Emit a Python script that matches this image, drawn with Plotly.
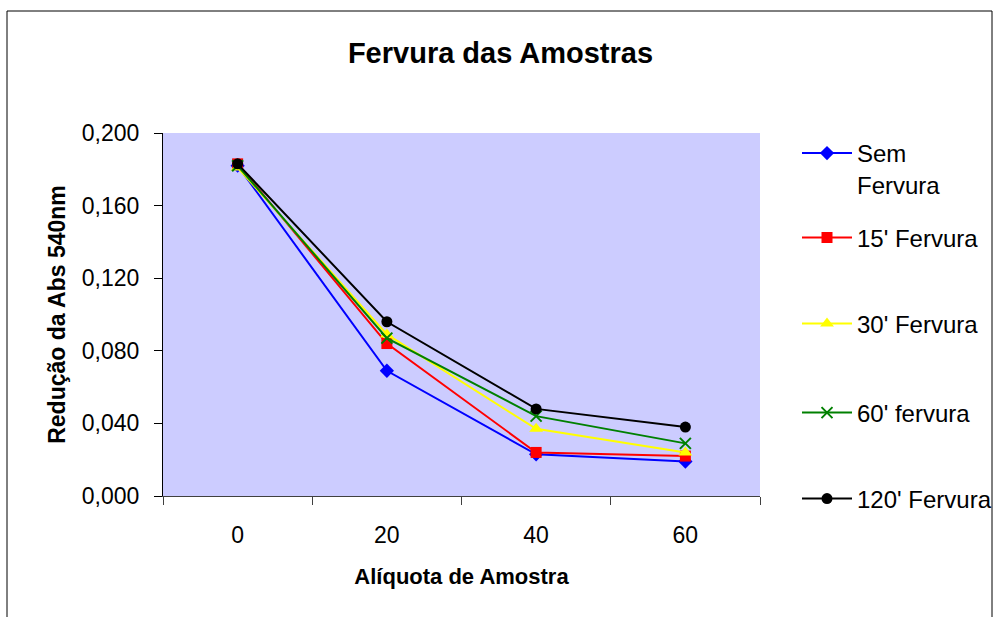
import plotly.graph_objects as go

categories = ["0", "20", "40", "60"]
series_names = ["Sem<br>Fervura", "15' Fervura", "30' Fervura", "60' fervura", "120' Fervura"]
sem_fervura = [0.182, 0.069, 0.023, 0.019]
fervura_15 = [0.183, 0.084, 0.024, 0.022]
fervura_30 = [0.181, 0.089, 0.037, 0.024]
fervura_60 = [0.182, 0.087, 0.044, 0.029]
fervura_120 = [0.183, 0.096, 0.048, 0.038]
y_ticks = [0.0, 0.04, 0.08, 0.12, 0.16, 0.2]

series_values = [sem_fervura, fervura_15, fervura_30, fervura_60, fervura_120]
colors = ["#0000FF", "#FF0000", "#FFFF00", "#008000", "#000000"]
symbols = ["diamond", "square", "triangle-up", "x-thin-open", "circle"]
sizes = [11, 11, 12, 11, 11]

FONT = "Arial, Liberation Sans, sans-serif"

# plot area geometry in pixels
L, R, T, B = 163, 237, 133, 121
W, H = 997, 617
pw, ph = W - L - R, H - T - B

def py(ypix):
    return (H - B - ypix) / ph

def px(xpix):
    return (xpix - L) / pw

fig = go.Figure()
legend_ids = ["legend", "legend2", "legend3", "legend4", "legend5"]
for i, (name, vals) in enumerate(zip(series_names, series_values)):
    fig.add_trace(go.Scatter(
        x=categories, y=vals, name=name, mode="lines+markers",
        line=dict(color=colors[i], width=2),
        marker=dict(symbol=symbols[i], size=sizes[i], color=colors[i],
                    line=dict(color=colors[i], width=2 if symbols[i] == "x-thin-open" else 0)),
        legend=legend_ids[i],
    ))

leg_centers = [None, 238, 324, 413, 499]
legend_common = dict(font=dict(family=FONT, size=24, color="black"),
                     bgcolor="rgba(0,0,0,0)", x=px(797), xanchor="left",
                     itemwidth=50)
layout_legends = {}
layout_legends["legend"] = dict(legend_common, y=py(131), yanchor="top", valign="top")
for i in range(1, 5):
    layout_legends[legend_ids[i]] = dict(legend_common, y=py(leg_centers[i]), yanchor="middle")

fig.update_layout(
    width=W, height=H,
    margin=dict(l=L, r=R, t=T, b=B, autoexpand=False),
    paper_bgcolor="white",
    plot_bgcolor="#CCCCFF",
    separators=",.",
    font=dict(family=FONT, size=22, color="black"),
    title=dict(text="<b>Fervura das Amostras</b>", x=0.502, xanchor="center",
               y=1 - 53 / H, yanchor="middle",
               font=dict(family=FONT, size=29, color="black")),
    xaxis=dict(type="category", range=[-0.5, 3.5], tickson="boundaries",
               ticks="outside", ticklen=8, tickcolor="#404040",
               showline=True, linecolor="#404040", linewidth=1,
               showgrid=False, zeroline=False, ticklabelstandoff=18,
               tickfont=dict(family=FONT, size=23),
               title=dict(text="<b>Alíquota de Amostra</b>", standoff=22,
                          font=dict(family=FONT, size=22))),
    yaxis=dict(range=[0, 0.2], tickvals=y_ticks, tickformat=".3f",
               ticks="outside", ticklen=8, tickcolor="black",
               showline=True, linecolor="black", linewidth=1,
               showgrid=False, zeroline=False, ticklabelstandoff=10,
               tickfont=dict(family=FONT, size=23),
               title=dict(text="<b>Redução da Abs 540nm</b>", standoff=9,
                          font=dict(family=FONT, size=23))),
    showlegend=True,
    **layout_legends,
)

# outer chart border
fig.add_shape(type="rect", xref="paper", yref="paper",
              x0=px(7), x1=px(992), y0=py(640), y1=py(11),
              line=dict(color="black", width=1), fillcolor="rgba(0,0,0,0)",
              layer="below")

fig.write_html("out.html")
